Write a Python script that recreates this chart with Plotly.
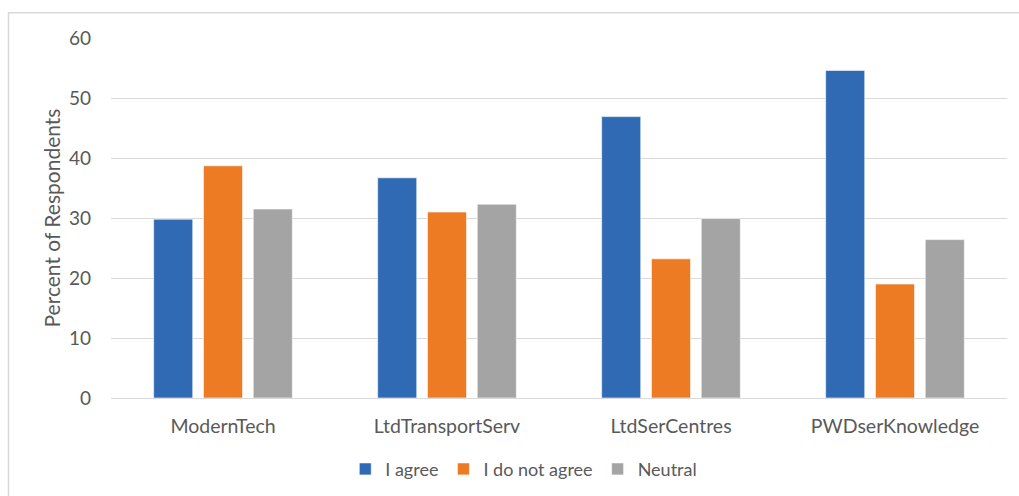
import plotly.graph_objects as go

categories = ["ModernTech", "LtdTransportServ", "LtdSerCentres", "PWDserKnowledge"]
agree = [29.8, 36.7, 46.9, 54.6]
not_agree = [38.7, 31.0, 23.2, 19.0]
neutral = [31.5, 32.3, 29.9, 26.4]
y_ticks = [0, 10, 20, 30, 40, 50, 60]

series = [
    ("I agree", agree, "#306AB4"),
    ("I do not agree", not_agree, "#ED7B23"),
    ("Neutral", neutral, "#A3A4A3"),
]

FONT = "Lato"
TEXT = "#595959"

fig = go.Figure()
for name, vals, color in series:
    fig.add_trace(go.Bar(
        x=categories, y=vals, name=name,
        marker=dict(color=color, line=dict(color="rgba(255,255,255,0.6)", width=1)),
    ))

fig.update_layout(
    width=1019, height=496,
    margin=dict(l=111, r=12, t=38, b=98, autoexpand=False),
    paper_bgcolor="white", plot_bgcolor="white",
    barmode="group", bargap=0.333, bargroupgap=0.215,
    font=dict(family=FONT, color=TEXT, size=18),
    showlegend=True,
    legend=dict(orientation="h", x=0.514, xanchor="center", xref="container",
                y=0.054, yanchor="middle", yref="container",
                font=dict(family=FONT, size=18, color=TEXT), traceorder="normal",
                itemwidth=30, tracegroupgap=0),
    xaxis=dict(showgrid=False, showline=True, linecolor="#D9D9D9", linewidth=1,
               automargin=False, ticks="",
               tickfont=dict(family=FONT, size=19.5, color=TEXT), ticklabelstandoff=11),
    yaxis=dict(range=[0, 60], tickvals=y_ticks, showgrid=True, gridcolor="#D9D9D9",
               gridwidth=1, zeroline=False, showline=False, ticks="", automargin=False,
               tickfont=dict(family=FONT, size=19, color=TEXT), ticklabelstandoff=19,
               title=dict(text="Percent of Respondents", standoff=2,
                          font=dict(family=FONT, size=21, color=TEXT))),
    shapes=[dict(type="rect", xref="paper", yref="paper",
                 x0=-0.1144, x1=1.05, y0=-0.35, y1=1.0703,
                 line=dict(color="#D9D9D9", width=1.5), fillcolor="rgba(0,0,0,0)",
                 layer="below")],
)

fig.write_html("out.html")
